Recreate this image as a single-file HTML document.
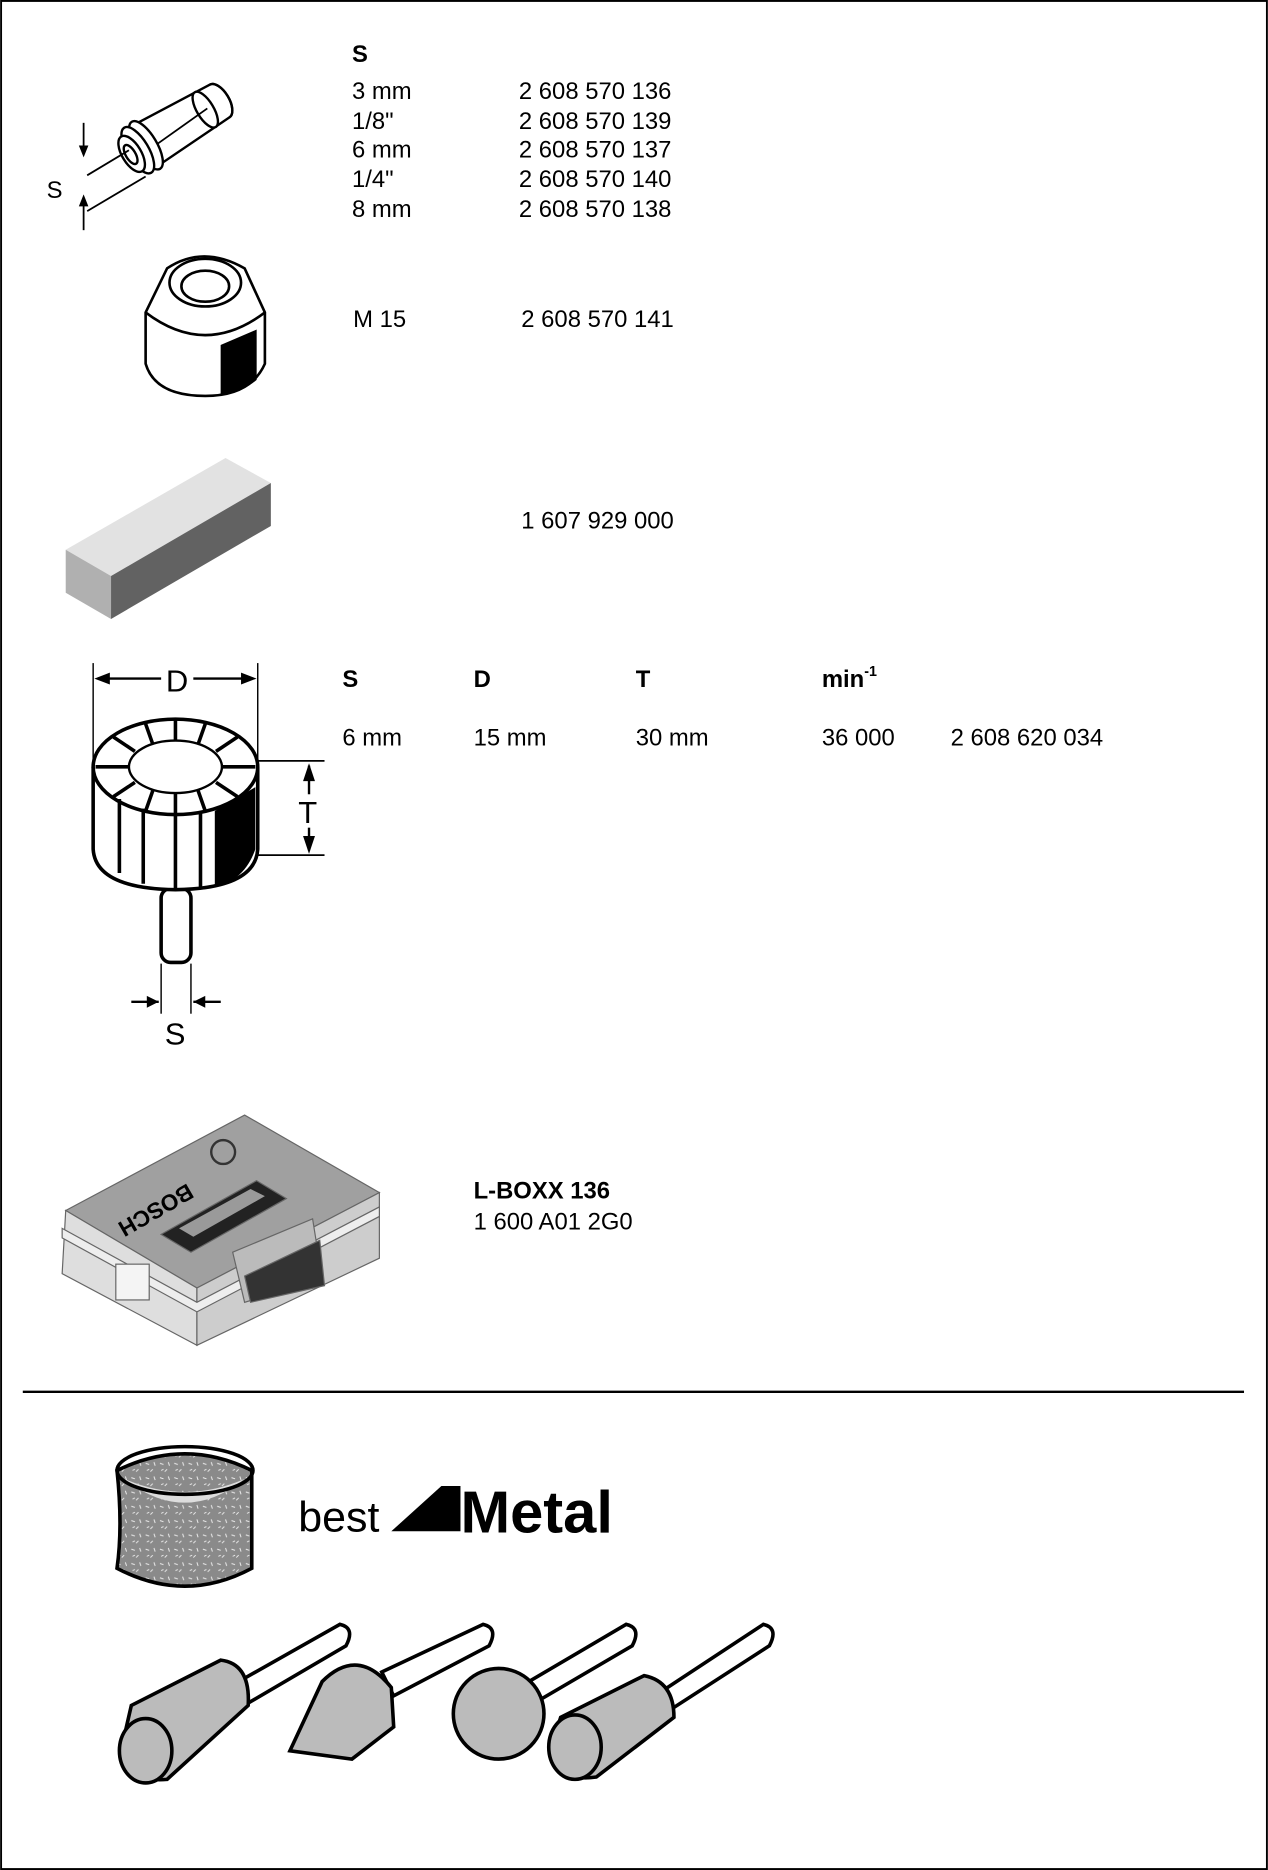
<!DOCTYPE html>
<html><head><meta charset="utf-8"><style>
html,body{margin:0;padding:0;background:#fff}
svg{display:block}
text{font-family:"Liberation Sans Narrow","Liberation Sans",sans-serif;fill:#000}
.t{font-size:20px}
.b{font-size:20px;font-weight:bold}
</style></head><body>
<svg width="1268" height="1870" viewBox="0 0 1063 1568" xmlns="http://www.w3.org/2000/svg">
<rect x="0.8" y="0.8" width="1061.4" height="1566.4" fill="none" stroke="#000" stroke-width="1.6"/>
<!-- collet -->
<g transform="translate(112,128) rotate(-31)" stroke="#000" stroke-width="2" fill="#fff">
<path d="M10,-20 L84,-16 A8,16 0 0 1 84,16 L10,20 Z"/>
<path d="M84,16 A8,16 0 0 0 84,-16" fill="none"/>
<ellipse cx="70" cy="0" rx="7" ry="17" fill="#fff"/>
<line x1="20" y1="4" x2="72" y2="0" stroke-width="1.5"/>
<ellipse cx="12" cy="0" rx="9" ry="23"/>
<ellipse cx="4" cy="0" rx="9" ry="22"/>
<ellipse cx="-2" cy="0" rx="8" ry="17"/>
<ellipse cx="-3" cy="0" rx="4" ry="9"/>
</g>
<g stroke="#000" stroke-width="1.5">
<line x1="73" y1="147" x2="108" y2="126"/><line x1="73" y1="177" x2="122" y2="148"/>
<line x1="70" y1="103" x2="70" y2="128"/><line x1="70" y1="168" x2="70" y2="193"/>
</g>
<path d="M66,122 L74,122 L70,132 Z M66,173 L74,173 L70,163 Z"/>
<text x="39" y="166" class="t">S</text>
<!-- nut -->
<g stroke="#000" stroke-width="2.2" fill="#fff">
<path d="M122,262 L140,225 Q170,205 205,225 L222,262 L222,305 Q210,332 172,332 Q130,332 122,305 Z"/>
<path d="M122,262 Q172,300 222,262" fill="none"/>
<ellipse cx="172" cy="237" rx="30" ry="20"/>
<ellipse cx="172" cy="240" rx="20" ry="13"/>
<path d="M186,290 L214,278 L214,318 Q205,326 186,330 Z" fill="#000"/>
</g>
<!-- block -->
<polygon points="55,461 189,384 227,405 93,483" fill="#e2e2e2"/>
<polygon points="55,461 93,483 93,519 55,497" fill="#b0b0b0"/>
<polygon points="93,483 227,405 227,441 93,519" fill="#626262"/>
<!-- text blocks -->
<text x="295" y="52" class="b">S</text>
<text x="295" y="83" class="t">3 mm</text><text x="435" y="83" class="t">2 608 570 136</text>
<text x="295" y="108" class="t">1/8"</text><text x="435" y="108" class="t">2 608 570 139</text>
<text x="295" y="132" class="t">6 mm</text><text x="435" y="132" class="t">2 608 570 137</text>
<text x="295" y="157" class="t">1/4"</text><text x="435" y="157" class="t">2 608 570 140</text>
<text x="295" y="182" class="t">8 mm</text><text x="435" y="182" class="t">2 608 570 138</text>
<text x="296" y="274" class="t">M 15</text><text x="437" y="274" class="t">2 608 570 141</text>
<text x="437" y="443" class="t">1 607 929 000</text>
<text x="287" y="576" class="b">S</text><text x="397" y="576" class="b">D</text><text x="533" y="576" class="b">T</text>
<text x="689" y="576" class="b">min<tspan font-size="12" dy="-9">-1</tspan></text>
<text x="287" y="625" class="t">6 mm</text><text x="397" y="625" class="t">15 mm</text><text x="533" y="625" class="t">30 mm</text><text x="689" y="625" class="t">36 000</text><text x="797" y="625" class="t">2 608 620 034</text>
<!-- flap wheel -->
<g stroke="#000" fill="none">
<line x1="78" y1="556" x2="78" y2="640" stroke-width="1.2"/><line x1="216" y1="556" x2="216" y2="640" stroke-width="1.2"/>
<line x1="82" y1="569" x2="135" y2="569" stroke-width="2"/><line x1="162" y1="569" x2="212" y2="569" stroke-width="2"/>
<line x1="216" y1="638" x2="272" y2="638" stroke-width="1.5"/><line x1="216" y1="717" x2="272" y2="717" stroke-width="1.5"/>
<line x1="259" y1="642" x2="259" y2="666" stroke-width="2"/><line x1="259" y1="694" x2="259" y2="713" stroke-width="2"/>
<line x1="135" y1="808" x2="135" y2="850" stroke-width="1.2"/><line x1="160" y1="808" x2="160" y2="850" stroke-width="1.2"/>
<line x1="110" y1="840" x2="133" y2="840" stroke-width="2"/><line x1="162" y1="840" x2="185" y2="840" stroke-width="2"/>
</g>
<path d="M79,569 L92,564 L92,574 Z M215,569 L202,564 L202,574 Z M259,640 L254,655 L264,655 Z M259,716 L254,701 L264,701 Z M133,840 L123,835 L123,845 Z M162,840 L172,835 L172,845 Z"/>
<text x="139" y="580" font-size="26">D</text>
<text x="250" y="690" font-size="26">T</text>
<text x="138" y="876" font-size="26">S</text>
<g stroke="#000" stroke-width="3" fill="#fff">
<rect x="135" y="745" width="25" height="62" rx="8"/>
<path d="M78,643 L78,712 Q80,745 147,746 Q214,745 216,712 L216,643"/>
<path d="M180,680 L180,744 Q205,738 214,712 L214,660 Z" fill="#000" stroke="none"/>
<ellipse cx="147" cy="643" rx="69" ry="40"/>
<ellipse cx="147" cy="643" rx="39" ry="22" stroke-width="2"/>
</g>
<g stroke="#000" stroke-width="3">
<line x1="100" y1="670" x2="100" y2="732"/><line x1="120" y1="678" x2="120" y2="741"/><line x1="147" y1="683" x2="147" y2="746"/><line x1="168" y1="681" x2="168" y2="744"/>
<line x1="147" y1="603" x2="147" y2="621"/><line x1="147" y1="665" x2="147" y2="683"/>
<line x1="108" y1="643" x2="80" y2="643"/><line x1="186" y1="643" x2="214" y2="643"/>
<line x1="122" y1="607" x2="128" y2="624"/><line x1="172" y1="607" x2="166" y2="624"/>
<line x1="95" y1="618" x2="113" y2="630"/><line x1="199" y1="618" x2="181" y2="630"/>
<line x1="95" y1="668" x2="113" y2="656"/><line x1="199" y1="668" x2="181" y2="656"/>
<line x1="122" y1="680" x2="128" y2="663"/><line x1="172" y1="680" x2="166" y2="663"/>
</g>
<!-- L-BOXX -->
<g stroke="#666" stroke-width="1">
<polygon points="55,1015 205,935 318,1000 165,1080" fill="#a0a0a0"/>
<polygon points="55,1015 165,1080 165,1128 52,1068" fill="#dedede"/>
<polygon points="165,1080 318,1000 318,1055 165,1128" fill="#cdcdcd"/>
<polygon points="52,1030 165,1092 318,1012 318,1020 165,1100 52,1038" fill="#eee"/>
<polygon points="135,1035 215,990 240,1005 160,1050" fill="#222"/>
<polygon points="150,1030 210,997 222,1003 162,1037" fill="#9a9a9a" stroke="none"/>
<polygon points="195,1050 262,1022 270,1072 205,1092" fill="#bbb"/>
<polygon points="205,1070 268,1040 272,1078 210,1092" fill="#333"/>
<rect x="97" y="1060" width="28" height="30" fill="#f4f4f4"/>
</g>
<text x="0" y="0" font-size="19" font-weight="bold" fill="#333" transform="translate(157,992) rotate(150)" style="font-family:'Liberation Sans',sans-serif">BOSCH</text>
<circle cx="187" cy="966" r="10" fill="none" stroke="#333" stroke-width="2"/>
<text x="397" y="1005" class="b">L-BOXX 136</text>
<text x="397" y="1031" class="t">1 600 A01 2G0</text>
<line x1="19" y1="1167" x2="1043" y2="1167" stroke="#000" stroke-width="2"/>
<!-- sanding band -->
<defs><pattern id="sp" width="12" height="12" patternUnits="userSpaceOnUse"><rect width="12" height="12" fill="#8a8a8a"/><path d="M2,3 l3,1 M8,8 l-2,2 M9,2 l1,3 M3,9 l2,-1" stroke="#eee" stroke-width="0.8"/></pattern></defs>
<path d="M98,1233 Q155,1205 211,1233 L211,1315 Q155,1345 98,1315 Q103,1280 98,1233 Z" fill="url(#sp)" stroke="#000" stroke-width="3"/>
<path d="M104,1240 Q155,1262 205,1240 Q155,1280 104,1240 Z" fill="#ddd"/>
<ellipse cx="155" cy="1233" rx="57" ry="20" fill="none" stroke="#000" stroke-width="3"/>
<!-- logo -->
<text x="250" y="1284" font-size="36" style="font-family:'Liberation Sans',sans-serif">best</text>
<polygon points="328,1284 370,1246 386,1246 386,1284" fill="#000"/>
<text x="0" y="0" font-size="15" font-weight="bold" fill="#fff" transform="translate(352,1282) rotate(-42)" style="font-family:'Liberation Sans',sans-serif">for</text>
<text x="386" y="1285" font-size="50" font-weight="bold" style="font-family:'Liberation Sans',sans-serif">Metal</text>
<!-- burrs -->
<g stroke="#000" stroke-width="3" fill="#bbb">
<path d="M200,1410 L285,1362 Q298,1365 290,1380 L208,1428 Z" fill="#fff"/>
<path d="M110,1430 L185,1392 Q210,1395 208,1430 L140,1492 Q105,1495 102,1465 Z"/>
<ellipse cx="122" cy="1468" rx="22" ry="27"/>
<path d="M320,1402 L405,1362 Q418,1365 410,1380 L330,1422 Z" fill="#fff"/>
<path d="M243,1468 L270,1410 Q300,1380 328,1415 L330,1448 L295,1475 Z"/>
<path d="M440,1412 L525,1362 Q538,1365 530,1380 L448,1428 Z" fill="#fff"/>
<circle cx="418" cy="1437" r="38"/>
<path d="M555,1418 L640,1362 Q653,1365 645,1380 L563,1433 Z" fill="#fff"/>
<path d="M470,1440 L540,1405 Q565,1410 565,1440 L500,1490 Q465,1495 462,1465 Z"/>
<ellipse cx="482" cy="1465" rx="22" ry="27"/>
</g>
</svg>
</body></html>
